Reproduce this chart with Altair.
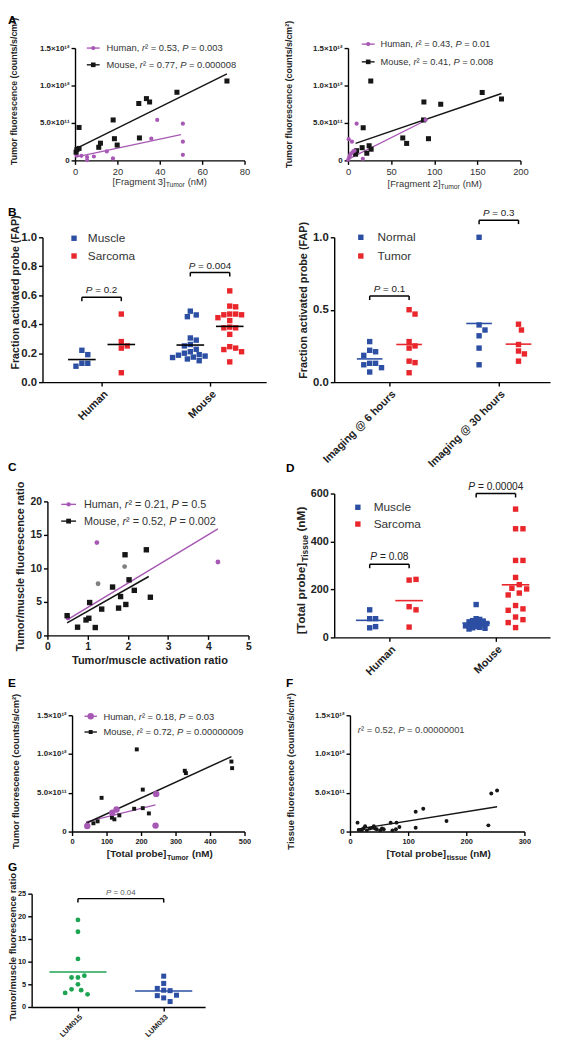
import altair as alt
import pandas as pd

FONT = "Liberation Sans"
PURPLE = "#a758b4"
BLACK = "#161616"
BLUE = "#2c4fa3"
RED = "#e8262b"
GREEN = "#1ea553"
GRAY = "#808080"
TXT = "#222222"

# ---------------- data ----------------
# A left: [Fragment 3]Tumor (nM) vs tumor fluorescence
a1_mouse_x = [0.5, 0.9, 1.9, 1.9, 11.2, 12.0, 18.0, 18.6, 19.9, 30.1, 30.4, 33.7, 35.2, 48.1, 71.7]
a1_mouse_y = [1.1e11, 1.45e11, 1.6e11, 4.4e11, 1.75e11, 2.3e11, 5.4e11, 2.9e11, 2.05e11, 7.6e11,
              3.0e11, 8.25e11, 7.8e11, 9.1e11, 1.06e12]
a1_human_x = [0.8, 3.0, 5.7, 5.7, 8.9, 15.0, 17.9, 36.0, 38.8, 50.9, 50.9, 50.9]
a1_human_y = [6.6e10, 6.1e10, 4.4e10, 3.0e9, 5.2e10, 1.2e11, 2.6e10, 2.9e11, 5.4e11, 4.9e11, 2.5e11, 7.4e10]
a1_fit_mouse_x = [0.0, 71.7]
a1_fit_mouse_y = [1.5e11, 1.155e12]
a1_fit_human_x = [0.2, 50.0]
a1_fit_human_y = [4.4e10, 3.45e11]
a1_r2 = ["0.53", "0.77"]
a1_p = ["0.003", "0.000008"]

# A right: [Fragment 2]Tumor (nM)
a2_mouse_x = [8.8, 10.0, 16.4, 17.6, 21.8, 24.5, 26.8, 26.4, 63.5, 68.0, 88.0, 87.6, 93.3, 107.5, 155.6, 178.0]
a2_mouse_y = [8.3e10, 1.3e11, 1.7e11, 4.36e11, 9.6e10, 1.96e11, 1.5e11, 1.06e12, 3.0e11, 2.27e11,
              7.8e11, 5.4e11, 2.9e11, 7.5e11, 9.07e11, 8.2e11]
a2_human_x = [0.3, 0.8, 1.5, 2.3, 3.8, 4.6, 6.0, 7.6, 10.0, 17.2, 90.0]
a2_human_y = [1.0e10, 2.83e11, 4.0e10, 7.0e10, 9.6e10, 2.5e11, 1.2e11, 1.3e11, 4.9e11, 2.2e10, 5.4e11]
a2_fit_mouse_x = [8.8, 178.0]
a2_fit_mouse_y = [2.27e11, 8.94e11]
a2_fit_human_x = [0.4, 91.0]
a2_fit_human_y = [1.7e10, 5.4e11]
a2_r2 = ["0.43", "0.41"]
a2_p = ["0.01", "0.008"]

# B left: fraction activated probe, Human / Mouse
b1_cats = ["Human", "Mouse"]
b1_h_muscle = [0.22, 0.19, 0.13, 0.13, 0.11]
b1_h_sarcoma = [0.47, 0.28, 0.25, 0.235, 0.065]
b1_m_muscle = [0.49, 0.464, 0.452, 0.305, 0.29, 0.26, 0.25, 0.227, 0.21, 0.2, 0.19, 0.186, 0.18,
               0.173, 0.17, 0.16, 0.148]
b1_m_sarcoma = [0.63, 0.525, 0.52, 0.47, 0.47, 0.465, 0.465, 0.445, 0.425, 0.38, 0.375, 0.375, 0.33,
                0.245, 0.235, 0.225, 0.21, 0.14]
b1_bracket_y = [0.586, 0.757]
b1_p = ["0.2", "0.004"]

# B right: imaging time
b2_cats = ["Imaging @ 6 hours", "Imaging @ 30 hours"]
b2_6_normal = [0.28, 0.22, 0.21, 0.185, 0.13, 0.13, 0.12, 0.10, 0.07]
b2_6_tumor = [0.5, 0.47, 0.28, 0.25, 0.235, 0.145, 0.135, 0.065]
b2_30_normal = [1.0, 0.395, 0.36, 0.32, 0.235, 0.12]
b2_30_tumor = [0.4, 0.36, 0.26, 0.215, 0.195, 0.145]
b2_bracket_y = [0.594, 1.118]
b2_p = ["0.1", "0.3"]

# C: tumor/muscle activation ratio vs fluorescence ratio
c_mouse_x = [0.49, 0.75, 0.96, 1.03, 1.05, 1.19, 1.35, 1.62, 1.77, 1.82, 1.93, 1.95, 2.03, 2.16, 2.46, 2.56]
c_mouse_y = [2.95, 1.23, 2.31, 2.56, 4.91, 1.18, 3.93, 7.22, 4.08, 5.8, 12.04, 4.62, 8.3, 6.73, 12.78, 5.7]
c_human_x = [0.51, 1.23, 4.24]
c_human_y = [2.6, 13.86, 10.96]
c_gray_x = [1.26, 1.92]
c_gray_y = [7.71, 10.27]
c_fit_human_x = [0.5, 4.24]
c_fit_human_y = [2.36, 15.9]
c_fit_mouse_x = [0.49, 2.52]
c_fit_mouse_y = [1.87, 8.8]
c_r2 = ["0.21", "0.52"]
c_p = ["0.5", "0.002"]

# D: total probe in tissue
d_cats = ["Human", "Mouse"]
d_h_muscle = [78, 78, 115, 40, 45]
d_h_sarcoma = [239, 242, 128, 115, 43]
d_m_muscle = [137, 78, 75, 70, 68, 65, 62, 60, 58, 55, 52, 50, 48, 45, 42, 40, 38, 35]
d_m_sarcoma = [535, 453, 453, 321, 321, 250, 220, 205, 202, 185, 177, 133, 119, 113, 85, 74, 62, 41]
d_bracket_y = [305, 600]
d_p = ["0.08", "0.00004"]

# E: total probe in tumor vs tumor fluorescence
e_mouse_x = [61.9, 74, 85.6, 115.5, 122.7, 137, 180, 187.6, 205, 205, 222.7, 326.8, 330, 462, 464]
e_mouse_y = [1.07e11, 1.32e11, 4.35e11, 1.79e11, 1.58e11, 2.09e11, 2.94e11, 1.06e12, 3.02e11, 5.41e11,
             2.34e11, 7.84e11, 7.54e11, 9.03e11, 8.18e11]
e_human_x = [44, 116.5, 129, 244, 242]
e_human_y = [7.2e10, 2.43e11, 2.85e11, 4.86e11, 7.7e10]
e_fit_mouse_x = [41, 462]
e_fit_mouse_y = [1.07e11, 9.67e11]
e_fit_human_x = [41, 242]
e_fit_human_y = [1.24e11, 3.45e11]
e_r2 = ["0.18", "0.72"]
e_p = ["0.03", "0.00000009"]

# F: total probe in tissue vs tissue fluorescence
f_x = [13, 15, 20, 23, 26, 29, 34, 38, 41, 43, 46, 52, 55, 58, 70, 73, 79, 80, 85, 113, 113, 126, 166, 238, 243, 253]
f_y = [1.15e11, 2.0e10, 1.5e10, 4.0e10, 7.0e10, 1.5e10, 4.0e10, 5.0e10, 7.0e10, 4.0e10, 3.0e10, 1.5e10, 4.0e10,
       3.0e10, 1.15e11, 1.5e10, 3.0e10, 1.15e11, 6.0e10, 2.56e11, 5.0e10, 2.94e11, 1.36e11, 8.0e10, 4.9e11, 5.3e11]
f_fit_x = [13, 253]
f_fit_y = [3.0e10, 3.2e11]
f_r2 = "0.52"
f_p = "0.00000001"

# G: LUM015 vs LUM033
g_cats = ["LUM015", "LUM033"]
g_lum015 = [19.2, 16.6, 10.6, 6.5, 6.9, 6.5, 5.0, 3.7, 3.9, 2.8, 3.1]
g_lum033 = [6.8, 5.2, 3.7, 3.6, 4.1, 2.5, 2.6, 2.0, 1.2]
g_bracket_y = 23.9
g_p = "0.04"

SCI_VALUES = [0, 5e11, 1e12, 1.5e12]
SCI_LABELS = ["0", "5.0×10¹¹", "1.0×10¹²", "1.5×10¹²"]

# ---------------- helpers ----------------
W, H = 553, 1042     # drawing area; page coordinate = chart coordinate + 8 (body margin)
M = 8

WR = {" ": 278, ",": 278, ".": 278, "=": 584, "(": 333, ")": 333, "[": 278, "]": 278, "/": 278,
      "×": 584, "²": 333, "@": 1015}
WB = {" ": 278, ",": 278, ".": 278, "=": 584, "(": 333, ")": 333, "[": 333, "]": 333, "/": 278,
      "×": 584, "²": 333, "@": 975}
for _ch in "0123456789":
    WR[_ch] = 556
    WB[_ch] = 556
WR.update(dict(zip("abcdefghijklmnopqrstuvwxyz",
                   [556, 556, 500, 556, 556, 278, 556, 556, 222, 222, 500, 222, 833, 556, 556, 556, 556, 333,
                    500, 278, 556, 500, 722, 500, 500, 500])))
WR.update(dict(zip("ABCDEFGHIJKLMNOPQRSTUVWXYZ",
                   [667, 667, 722, 722, 667, 611, 778, 722, 278, 500, 667, 556, 833, 722, 778, 667, 778, 722,
                    667, 611, 722, 667, 944, 667, 667, 611])))
WB.update(dict(zip("abcdefghijklmnopqrstuvwxyz",
                   [556, 611, 556, 611, 556, 333, 611, 611, 278, 278, 556, 278, 889, 611, 611, 611, 611, 389,
                    556, 333, 611, 556, 778, 556, 556, 500])))
WB.update(dict(zip("ABCDEFGHIJKLMNOPQRSTUVWXYZ",
                   [722, 722, 722, 722, 667, 611, 778, 722, 278, 556, 722, 611, 833, 722, 778, 667, 778, 722,
                    667, 611, 722, 667, 944, 667, 667, 611])))

ONE = pd.DataFrame({"k": [0]})


def tw(s, size, bold=False):
    tab = WB if bold else WR
    return sum(tab.get(ch, 556) for ch in s) * size / 1000.0


def V(x, y):
    return dict(x=alt.value(round(x - M, 2)), y=alt.value(round(y - M, 2)))


def T(s, x, y, size, weight="normal", color=TXT, align="left", baseline="alphabetic", angle=0):
    kw = dict(text=s, font=FONT, fontSize=size, fontWeight=weight, color=color, align=align, baseline=baseline)
    if angle:
        kw["angle"] = angle
    return alt.Chart(ONE).mark_text(**kw).encode(**V(x, y))


def RT(segs, enc, size, color=TXT, weight="normal", align="left", angle=0, dy=0.0, data=None):
    data = ONE if data is None else data
    bold = weight == "bold"
    parts = []
    for s, k in segs:
        fs = round(size * 0.72, 2) if k == "sub" else size
        parts.append((s, k, fs, tw(s, fs, bold)))
    total = sum(p[3] for p in parts)
    pos = -total / 2 if align == "center" else (-total if align == "right" else 0.0)
    out = []
    for s, k, fs, w in parts:
        core = s.lstrip(" ")
        lead = tw(s[: len(s) - len(core)], fs, bold)
        kw = dict(text=core, font=FONT, fontSize=fs, fontWeight=weight,
                  fontStyle="italic" if k == "i" else "normal", color=color,
                  align="left", baseline="alphabetic",
                  dx=round(pos + lead, 2), dy=round(dy + (0.3 * size if k == "sub" else 0.0), 2))
        if angle:
            kw["angle"] = angle
        out.append(alt.Chart(data).mark_text(**kw).encode(**enc))
        pos += w
    return out


def cat_expr(vals, labels):
    e = "'" + labels[-1] + "'"
    for i in range(len(vals) - 2, -1, -1):
        thr = (vals[i] + vals[i + 1]) / 2
        e = "datum.value < " + repr(float(thr)) + " ? '" + labels[i] + "' : " + e
    return e


def axis(orient, offset, values, size, weight="bold", expr=None, fmt=None, angle=None, color="#222222",
         pad=2, align=None, baseline=None):
    kw = dict(orient=orient, offset=offset, values=values, title=None, grid=False, labelFont=FONT,
              labelFontSize=size, labelFontWeight=weight, labelColor=color, domainColor="#000000",
              tickColor="#000000", domainWidth=1.4, tickWidth=1.4, tickSize=4, labelPadding=pad,
              labelOverlap=False, labelFlush=False)
    if expr:
        kw["labelExpr"] = expr
    if fmt:
        kw["format"] = fmt
    if angle is not None:
        kw["labelAngle"] = angle
    if align:
        kw["labelAlign"] = align
    if baseline:
        kw["labelBaseline"] = baseline
    return alt.Axis(**kw)


def encs(box, xdom, ydom, xax, yax):
    left, top, w, h = box
    x0, x1 = left - M, left - M + w
    y0, y1 = top - M + h, top - M
    xs = alt.Scale(domain=xdom, range=[x0, x1], nice=False, zero=False)
    ys = alt.Scale(domain=ydom, range=[y0, y1], nice=False, zero=False)
    xa = axis("bottom", round(y0 - H, 2), **xax)
    ya = axis("left", round(-x0, 2), **yax)

    def X(f):
        return alt.X(f, type="quantitative", scale=xs, axis=xa)

    def Y(f):
        return alt.Y(f, type="quantitative", scale=ys, axis=ya)
    return X, Y


def pts(xs, ys, shape, size, color, X, Y):
    df = pd.DataFrame({"x": xs, "y": ys})
    return alt.Chart(df).mark_point(shape=shape, filled=True, size=size, color=color, opacity=1,
                                    strokeWidth=0).encode(x=X("x"), y=Y("y"))


def fitline(xs, ys, color, width, X, Y):
    df = pd.DataFrame({"x": xs, "y": ys})
    return alt.Chart(df).mark_line(color=color, strokeWidth=width).encode(x=X("x"), y=Y("y"))


def leg_sym(x1, x2, y, color, shape, size, lw=1.4):
    out = []
    if x2 > x1:
        out.append(alt.Chart(ONE).mark_rule(color=color, strokeWidth=lw).encode(
            x=alt.value(x1 - M), x2=alt.value(x2 - M), y=alt.value(y - M)))
    out.append(alt.Chart(ONE).mark_point(shape=shape, filled=True, size=size, color=color, opacity=1,
                                         strokeWidth=0).encode(**V((x1 + x2) / 2, y)))
    return out


def stat_segs(name, r2, p):
    return [(name + ", ", "n"), ("r", "i"), ("² = " + r2 + ", ", "n"), ("P", "i"), (" = " + p, "n")]


def swarm(vals, yppu, d):
    placed, offs = [], []
    cands = [0.0]
    for i in range(1, 40):
        cands += [i * d * 0.5, -i * d * 0.5]
    for v in vals:
        y = v * yppu
        chosen = 0.0
        for c in cands:
            if all((c - px) ** 2 + (y - py) ** 2 >= d * d * 0.99 for px, py in placed):
                chosen = c
                break
        placed.append((chosen, y))
        offs.append(chosen)
    return offs


def dot_layers(groups, X, Y, xppu, yppu, hw_px, mean_color=None, lw=1.6):
    lp, lm = [], []
    hw = hw_px / xppu
    for cat, off, vals, color, shape, size, d in groups:
        js = swarm(vals, yppu, d)
        df = pd.DataFrame({"x": [cat + (off + j) / xppu for j in js], "y": vals,
                           "c": [cat + off / xppu] * len(vals)})
        lp.append(alt.Chart(df).mark_point(shape=shape, filled=True, size=size, color=color, opacity=1,
                                           strokeWidth=0).encode(x=X("x"), y=Y("y")))
        lm.append(alt.Chart(df).transform_aggregate(m="mean(y)", groupby=["c"]).transform_calculate(
            x1="datum.c - " + repr(hw), x2="datum.c + " + repr(hw)).mark_rule(
            color=mean_color or color, strokeWidth=lw).encode(x=X("x1"), x2=alt.X2("x2"), y=Y("m")))
    return lp + lm


def bracket(xa, xb, yb, tip, label, size, X, Y, tcolor=TXT):
    df = pd.DataFrame({"xa": [xa], "xb": [xb], "y": [yb], "yt": [yb - tip], "xc": [(xa + xb) / 2]})
    base = alt.Chart(df)
    out = [base.mark_rule(color="#000000", strokeWidth=1.5).encode(x=X("xa"), x2=alt.X2("xb"), y=Y("y")),
           base.mark_rule(color="#000000", strokeWidth=1.5).encode(x=X("xa"), y=Y("y"), y2=alt.Y2("yt")),
           base.mark_rule(color="#000000", strokeWidth=1.5).encode(x=X("xb"), y=Y("y"), y2=alt.Y2("yt"))]
    out += RT([("P", "i"), (" = " + label, "n")], dict(x=X("xc"), y=Y("y")), size, tcolor,
              align="center", dy=-4, data=df)
    return out


SCI_EXPR = cat_expr(SCI_VALUES, SCI_LABELS)
SCI_AX = dict(values=SCI_VALUES, size=8, expr=SCI_EXPR)

# ---------------- panel A left ----------------
box = (76, 41, 172, 114)
X, Y = encs(box, [0, 80], [0, 1.5e12],
            dict(values=[0, 20, 40, 60, 80], size=9.5, weight="normal", color="#333333"), SCI_AX)
L = [fitline(a1_fit_human_x, a1_fit_human_y, PURPLE, 1.3, X, Y),
     fitline(a1_fit_mouse_x, a1_fit_mouse_y, BLACK, 1.5, X, Y),
     pts(a1_human_x, a1_human_y, "circle", 18, PURPLE, X, Y),
     pts(a1_mouse_x, a1_mouse_y, "square", 26, BLACK, X, Y)]
L += leg_sym(88, 101, 41, PURPLE, "circle", 18)
L += RT(stat_segs("Human", a1_r2[0], a1_p[0]), V(108, 44.3), 9.5, "#333333")
L += leg_sym(88, 101, 58, BLACK, "square", 22)
L += RT(stat_segs("Mouse", a1_r2[1], a1_p[1]), V(108, 61.3), 9.5, "#333333")
L += RT([("[Fragment 3]", "n"), ("Tumor", "sub"), (" (nM)", "n")], V(162, 179.5), 9.5,
        "#333333", align="center")
L.append(T("Tumor fluorescence (counts/s/cm²)", 14.5, 85, 9, "bold", align="center",
           baseline="middle", angle=270))
L.append(T("A", 8, 8, 12, "bold", color="#000000", baseline="top"))
PA1 = alt.layer(*L)

# ---------------- panel A right ----------------
box = (353, 41, 175, 114)
X, Y = encs(box, [0, 200], [0, 1.5e12],
            dict(values=[0, 50, 100, 150, 200], size=9.5, weight="normal", color="#333333"), SCI_AX)
L = [fitline(a2_fit_human_x, a2_fit_human_y, PURPLE, 1.3, X, Y),
     fitline(a2_fit_mouse_x, a2_fit_mouse_y, BLACK, 1.5, X, Y),
     pts(a2_mouse_x, a2_mouse_y, "square", 26, BLACK, X, Y),
     pts(a2_human_x, a2_human_y, "circle", 18, PURPLE, X, Y)]
L += leg_sym(367, 380, 37, PURPLE, "circle", 18)
L += RT(stat_segs("Human", a2_r2[0], a2_p[0]), V(386, 40.3), 9.4, "#333333")
L += leg_sym(367, 380, 55, BLACK, "square", 22)
L += RT(stat_segs("Mouse", a2_r2[1], a2_p[1]), V(386, 58.3), 9.4, "#333333")
L += RT([("[Fragment 2]", "n"), ("Tumor", "sub"), (" (nM)", "n")], V(441, 181.5), 9.5,
        "#333333", align="center")
L.append(T("Tumor fluorescence (counts/s/cm²)", 293, 88, 9, "bold", align="center",
           baseline="middle", angle=270))
PA2 = alt.layer(*L)

# ---------------- panel B left ----------------
box = (43, 233, 227, 147)
xppu, yppu = 110.0, 147.0
X, Y = encs(box, [-0.545, 1.518], [0, 1.0],
            dict(values=[0, 1], size=11, expr=cat_expr([0, 1], b1_cats), angle=315, align="right",
                 baseline="top"),
            dict(values=[0, 0.2, 0.4, 0.6, 0.8, 1.0], size=11.5, fmt=".1f"))
groups = [(0, -20, b1_h_muscle, BLUE, "square", 30, 6.0), (0, 20, b1_h_sarcoma, RED, "square", 30, 6.0),
          (1, -20, b1_m_muscle, BLUE, "square", 30, 6.0), (1, 20, b1_m_sarcoma, RED, "square", 30, 6.0)]
L = dot_layers(groups, X, Y, xppu, yppu, 14, mean_color="#000000")
for i in range(2):
    L += bracket(i - 20 / xppu, i + 20 / xppu, b1_bracket_y[i], 4 / yppu, b1_p[i], 10, X, Y)
L += leg_sym(75, 75, 234, BLUE, "square", 30)
L.append(T("Muscle", 89, 238.2, 12, color="#333333"))
L += leg_sym(75, 75, 252, RED, "square", 30)
L.append(T("Sarcoma", 89, 256.2, 12, color="#333333"))
L.append(T("Fraction activated probe (FAP)", 16, 289, 10.8, "bold", align="center",
           baseline="middle", angle=270))
L.append(T("B", 8, 202, 12, "bold", color="#000000", baseline="top"))
PB1 = alt.layer(*L)

# ---------------- panel B right ----------------
box = (339, 233, 219, 147)
xppu, yppu = 111.0, 147.0
X, Y = encs(box, [-0.5045, 1.4685], [0, 1.0],
            dict(values=[0, 1], size=11, expr=cat_expr([0, 1], b2_cats), angle=315, align="right",
                 baseline="top"),
            dict(values=[0, 0.5, 1.0], size=11.5, fmt=".1f"))
groups = [(0, -20, b2_6_normal, BLUE, "square", 30, 6.0), (0, 20, b2_6_tumor, RED, "square", 30, 6.0),
          (1, -20, b2_30_normal, BLUE, "square", 30, 6.0), (1, 20, b2_30_tumor, RED, "square", 30, 6.0)]
L = dot_layers(groups, X, Y, xppu, yppu, 13)
for i in range(2):
    L += bracket(i - 20 / xppu, i + 20 / xppu, b2_bracket_y[i], 4 / yppu, b2_p[i], 10, X, Y)
L += leg_sym(366, 366, 233, BLUE, "square", 30)
L.append(T("Normal", 383, 237.2, 12, color="#333333"))
L += leg_sym(366, 366, 252, RED, "square", 30)
L.append(T("Tumor", 383, 256.2, 12, color="#333333"))
L.append(T("Fraction activated probe (FAP)", 308, 297, 11, "bold", align="center",
           baseline="middle", angle=270))
PB2 = alt.layer(*L)

# ---------------- panel C ----------------
box = (48, 501, 204, 136)
X, Y = encs(box, [0, 5], [0, 20], dict(values=[0, 1, 2, 3, 4, 5], size=10.5),
            dict(values=[0, 5, 10, 15, 20], size=10.5))
L = [fitline(c_fit_human_x, c_fit_human_y, PURPLE, 1.5, X, Y),
     fitline(c_fit_mouse_x, c_fit_mouse_y, BLACK, 1.6, X, Y),
     pts(c_gray_x, c_gray_y, "circle", 24, GRAY, X, Y),
     pts(c_human_x, c_human_y, "circle", 24, PURPLE, X, Y),
     pts(c_mouse_x, c_mouse_y, "square", 30, BLACK, X, Y)]
L += leg_sym(62, 77, 504, PURPLE, "circle", 20)
L += RT(stat_segs("Human", c_r2[0], c_p[0]), V(85, 507.9), 11, "#333333")
L += leg_sym(62, 77, 521, BLACK, "square", 24)
L += RT(stat_segs("Mouse", c_r2[1], c_p[1]), V(85, 524.9), 11, "#333333")
L.append(T("Tumor/muscle activation ratio", 152, 666, 11.2, "bold", align="center"))
L.append(T("Tumor/muscle fluorescence ratio", 21.5, 567, 11, "bold", align="center",
           baseline="middle", angle=270))
L.append(T("C", 8, 461, 12, "bold", color="#000000", baseline="top"))
PC = alt.layer(*L)

# ---------------- panel D ----------------
box = (339, 493, 219, 146)
xppu, yppu = 108.0, 146.0 / 600.0
X, Y = encs(box, [-0.5185, 1.509], [0, 600],
            dict(values=[0, 1], size=11, expr=cat_expr([0, 1], d_cats), angle=315, align="right",
                 baseline="top"),
            dict(values=[0, 200, 400, 600], size=11))
groups = [(0, -20, d_h_muscle, BLUE, "square", 30, 6.0), (0, 20, d_h_sarcoma, RED, "square", 30, 7.0),
          (1, -20, d_m_muscle, BLUE, "square", 30, 3.6), (1, 20, d_m_sarcoma, RED, "square", 30, 7.5)]
L = dot_layers(groups, X, Y, xppu, yppu, 14)
for i in range(2):
    L += bracket(i - 20 / xppu, i + 20 / xppu, d_bracket_y[i], 4 / yppu, d_p[i], 10.3, X, Y)
L += leg_sym(363, 363, 507, BLUE, "square", 30)
L.append(T("Muscle", 379, 511.2, 12, color="#333333"))
L += leg_sym(363, 363, 524, RED, "square", 30)
L.append(T("Sarcoma", 379, 528.2, 12, color="#333333"))
L += RT([("[Total probe]", "n"), ("Tissue", "sub"), (" (nM)", "n")], V(309.2, 571), 12,
        TXT, weight="bold", align="center", angle=270)
L.append(T("D", 290, 462, 12, "bold", color="#000000", baseline="top"))
PD = alt.layer(*L)

# ---------------- panel E ----------------
box = (73, 718, 175, 118)
X, Y = encs(box, [0, 500], [0, 1.5e12], dict(values=[0, 100, 200, 300, 400, 500], size=7.5), SCI_AX)
L = [fitline(e_fit_human_x, e_fit_human_y, PURPLE, 1.3, X, Y),
     fitline(e_fit_mouse_x, e_fit_mouse_y, BLACK, 1.5, X, Y),
     pts(e_mouse_x, e_mouse_y, "square", 16, BLACK, X, Y),
     pts(e_human_x, e_human_y, "circle", 42, PURPLE, X, Y)]
L += leg_sym(85.6, 98.2, 719, PURPLE, "circle", 42)
L += RT(stat_segs("Human", e_r2[0], e_p[0]), V(104.8, 722.3), 9.5, "#333333")
L += leg_sym(85.6, 98.2, 735, BLACK, "square", 16)
L += RT(stat_segs("Mouse", e_r2[1], e_p[1]), V(104.8, 738.3), 9.5, "#333333")
L += RT([("[Total probe]", "n"), ("Tumor", "sub"), (" (nM)", "n")], V(162, 862), 10,
        TXT, weight="bold", align="center")
L.append(T("Tumor fluorescence (counts/s/cm²)", 16, 775, 9.5, "bold", align="center",
           baseline="middle", angle=270))
L.append(T("E", 8, 680, 12, "bold", color="#000000", baseline="top"))
PE = alt.layer(*L)

# ---------------- panel F ----------------
box = (355, 718, 177, 118)
X, Y = encs(box, [0, 300], [0, 1.5e12], dict(values=[0, 100, 200, 300], size=7.5), SCI_AX)
L = [fitline(f_fit_x, f_fit_y, BLACK, 1.3, X, Y),
     pts(f_x, f_y, "circle", 16, BLACK, X, Y)]
L += RT([("r", "i"), ("² = " + f_r2 + ", ", "n"), ("P", "i"), (" = " + f_p, "n")], V(363, 736),
        9.5, "#444444")
L += RT([("[Total probe]", "n"), ("tissue", "sub"), (" (nM)", "n")], V(445, 862), 10,
        TXT, weight="bold", align="center")
L.append(T("Tissue fluorescence (counts/s/cm²)", 295, 775, 9.5, "bold", align="center",
           baseline="middle", angle=270))
L.append(T("F", 290, 680, 12, "bold", color="#000000", baseline="top"))
PF = alt.layer(*L)

# ---------------- panel G ----------------
box = (32, 899, 176, 115)
xppu, yppu = 87.0, 115.0 / 25.0
X, Y = encs(box, [-0.540, 1.483], [0, 25],
            dict(values=[0, 1], size=7.5, expr=cat_expr([0, 1], g_cats), angle=315, align="right",
                 baseline="top"),
            dict(values=[0, 5, 10, 15, 20, 25], size=7.5))
groups = [(0, 0, g_lum015, GREEN, "circle", 24, 6.5), (1, 0, g_lum033, BLUE, "square", 26, 6.5)]
L = dot_layers(groups, X, Y, xppu, yppu, 29, lw=1.4)
L += bracket(0, 1, g_bracket_y, 4 / yppu, g_p, 8, X, Y, tcolor="#555555")
L.append(T("Tumor/muscle fluorescence ratio", 13.5, 953, 9.6, "bold", align="center",
           baseline="middle", angle=270))
L.append(T("G", 8, 867, 12, "bold", color="#000000", baseline="top"))
PG = alt.layer(*L)

chart = alt.layer(PA1, PA2, PB1, PB2, PC, PD, PE, PF, PG).resolve_scale(
    x="independent", y="independent").resolve_axis(x="independent", y="independent").properties(
    width=W, height=H, padding=0, background="white",
    autosize=alt.AutoSizeParams(type="none")).configure_view(strokeWidth=0)

chart.save("out.html", embed_options={"renderer": "svg", "actions": False})
